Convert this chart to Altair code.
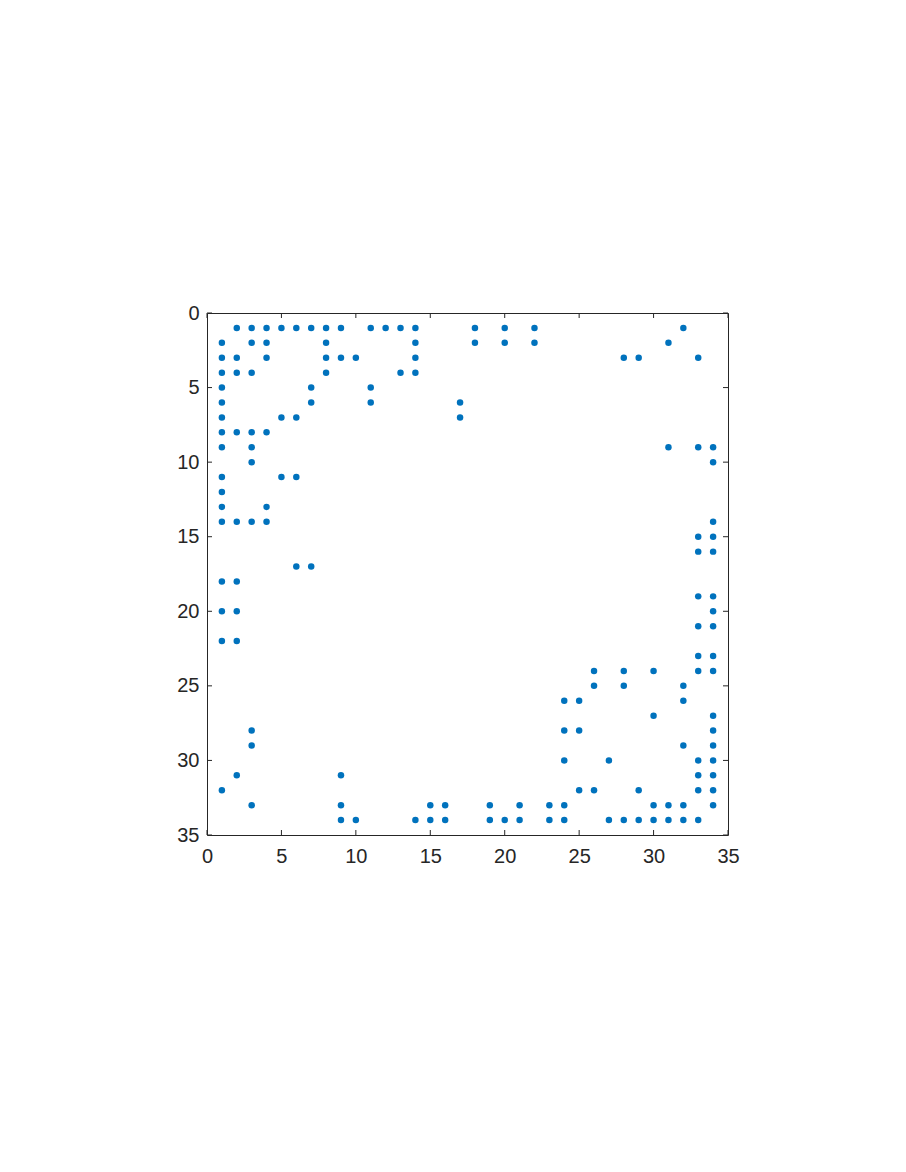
import altair as alt
import pandas as pd

# Adjacency lists (node: neighbours)
nodes = list(range(1, 35))
neighbours = [
    [2, 3, 4, 5, 6, 7, 8, 9, 11, 12, 13, 14, 18, 20, 22, 32],
    [1, 3, 4, 8, 14, 18, 20, 22, 31],
    [1, 2, 4, 8, 9, 10, 14, 28, 29, 33],
    [1, 2, 3, 8, 13, 14],
    [1, 7, 11],
    [1, 7, 11, 17],
    [1, 5, 6, 17],
    [1, 2, 3, 4],
    [1, 3, 31, 33, 34],
    [3, 34],
    [1, 5, 6],
    [1],
    [1, 4],
    [1, 2, 3, 4, 34],
    [33, 34],
    [33, 34],
    [6, 7],
    [1, 2],
    [33, 34],
    [1, 2, 34],
    [33, 34],
    [1, 2],
    [33, 34],
    [26, 28, 30, 33, 34],
    [26, 28, 32],
    [24, 25, 32],
    [30, 34],
    [3, 24, 25, 34],
    [3, 32, 34],
    [24, 27, 33, 34],
    [2, 9, 33, 34],
    [1, 25, 26, 29, 33, 34],
    [3, 9, 15, 16, 19, 21, 23, 24, 30, 31, 32, 34],
    [9, 10, 14, 15, 16, 19, 20, 21, 23, 24, 27, 28, 29, 30, 31, 32, 33],
]
tick_values = [0, 5, 10, 15, 20, 25, 30, 35]

rows, cols = [], []
for n, nb in zip(nodes, neighbours):
    for c in nb:
        rows.append(n)
        cols.append(c)
df = pd.DataFrame({"row": rows, "col": cols})
ticks = pd.DataFrame({"t": tick_values})

W, H = 521, 522
axis_col = "#262626"
xs = alt.Scale(domain=[0, 35], nice=False, zero=False)
ys = alt.Scale(domain=[0, 35], nice=False, zero=False, reverse=True)

xaxis = alt.Axis(values=tick_values, title=None, ticks=False, domain=False, grid=False,
                 labelFontSize=20, labelFont="Liberation Sans", labelColor=axis_col,
                 labelPadding=11, labelFlush=False, labelOverlap=False, labelBound=False)
yaxis = alt.Axis(values=tick_values, title=None, ticks=False, domain=False, grid=False,
                 labelFontSize=20, labelFont="Liberation Sans", labelColor=axis_col,
                 labelPadding=8, labelFlush=False, labelOverlap=False, labelBound=False)

points = alt.Chart(df).mark_circle(size=42, opacity=1, color="#0072BD").encode(
    x=alt.X("col:Q", scale=xs, axis=xaxis),
    y=alt.Y("row:Q", scale=ys, axis=yaxis),
)

tl = 5
rule_style = dict(color=axis_col, strokeWidth=1)
bottom = alt.Chart(ticks).mark_rule(**rule_style).encode(
    x=alt.X("t:Q", scale=xs), y=alt.value(H), y2=alt.value(H - tl))
top = alt.Chart(ticks).mark_rule(**rule_style).encode(
    x=alt.X("t:Q", scale=xs), y=alt.value(0), y2=alt.value(tl))
left = alt.Chart(ticks).mark_rule(**rule_style).encode(
    y=alt.Y("t:Q", scale=ys), x=alt.value(0), x2=alt.value(tl))
right = alt.Chart(ticks).mark_rule(**rule_style).encode(
    y=alt.Y("t:Q", scale=ys), x=alt.value(W), x2=alt.value(W - tl))

chart = alt.layer(points, bottom, top, left, right).properties(
    width=W, height=H,
    autosize=alt.AutoSizeParams(type="none"),
    padding={"left": 199, "top": 305, "right": 20, "bottom": 60},
).configure_view(stroke=axis_col, strokeWidth=1)

chart.save("out.html", embed_options={"renderer": "svg", "actions": False})
